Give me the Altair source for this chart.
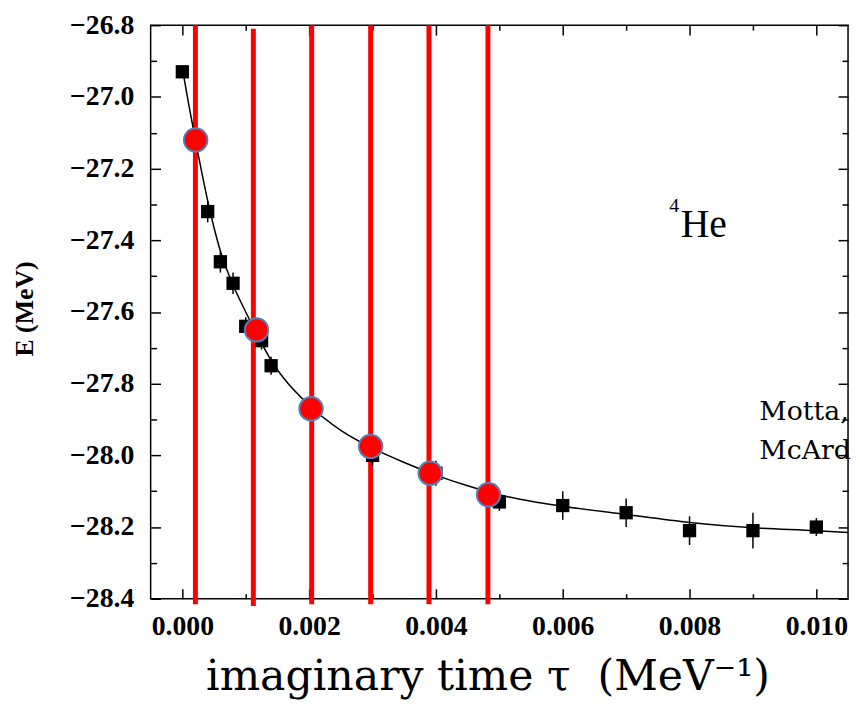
import altair as alt
import pandas as pd

# ---------------- data ----------------
# QMC points (black squares with error bars)
sq_tau = [0.0, 0.0004, 0.0006, 0.0008, 0.001, 0.00125, 0.0014, 0.002, 0.003,
          0.004, 0.005, 0.006, 0.007, 0.008, 0.009, 0.010]
sq_E = [-26.93, -27.32, -27.46, -27.52, -27.64, -27.68, -27.75, -27.86, -28.00,
        -28.05, -28.13, -28.14, -28.16, -28.21, -28.21, -28.20]
sq_err = [0.01, 0.03, 0.03, 0.03, 0.025, 0.025, 0.025, 0.025, 0.03,
          0.035, 0.025, 0.04, 0.04, 0.04, 0.05, 0.025]

# fitted curve
fit_tau = [0.0, 0.0001, 0.0002, 0.0003, 0.0004, 0.0005, 0.0006, 0.0008, 0.001,
           0.0012, 0.0014, 0.0016, 0.002, 0.0025, 0.003, 0.0035, 0.004, 0.0045,
           0.005, 0.0055, 0.006, 0.007, 0.008, 0.009, 0.010, 0.0105]
fit_E = [-26.92, -27.02, -27.115, -27.205, -27.29, -27.365, -27.43, -27.525, -27.60,
         -27.67, -27.735, -27.785, -27.86, -27.93, -27.98, -28.02, -28.055, -28.085,
         -28.11, -28.128, -28.142, -28.165, -28.187, -28.202, -28.21, -28.215]

# red highlighted points and vertical lines
dot_tau = [0.00021, 0.00117, 0.00203, 0.00297, 0.00391, 0.00483]
dot_E = [-27.12, -27.65, -27.87, -27.975, -28.05, -28.11]
vline_tau = [0.000206, 0.00112, 0.00204, 0.00297, 0.00389, 0.00482]
vline_top = [-26.80, -26.81, -26.80, -26.80, -26.80, -26.80]
vline_bot = [-28.415, -28.42, -28.415, -28.415, -28.415, -28.415]

# axis ticks
x_major = [0.0, 0.002, 0.004, 0.006, 0.008, 0.010]
x_minor = [0.001, 0.003, 0.005, 0.007, 0.009]
y_major = [-26.8, -27.0, -27.2, -27.4, -27.6, -27.8, -28.0, -28.2, -28.4]
y_minor = [-26.9, -27.1, -27.3, -27.5, -27.7, -27.9, -28.1, -28.3]

# ---------------- chart ----------------
W, H = 704, 579
SERIF = "Liberation Serif"
xscale = alt.Scale(domain=[-0.0005, 0.0105], nice=False, zero=False)
yscale = alt.Scale(domain=[-28.4, -26.8], nice=False, zero=False)


def tick_axis(orient, values, size):
    off = -H if orient in ("top", "bottom") else -W
    return alt.Axis(orient=orient, values=values, tickSize=size, offset=off,
                    labels=False, domain=False, grid=False, title=None,
                    ticks=True, tickColor="black", tickWidth=1.5)


x_label_axis = alt.Axis(
    orient="bottom", values=x_major, format=".3f", ticks=False, tickSize=0,
    domain=False, grid=False, labelFont=SERIF, labelFontSize=28,
    labelFontWeight="bold", labelColor="black", labelPadding=14,
    labelFlush=False, labelOverlap=False,
    title="imaginary time τ\u00a0 (MeV⁻¹)", titleFont="DejaVu Serif",
    titleFontSize=43, titleFontWeight="normal", titleColor="black",
    titleX=340, titleY=92, titleAlign="center", titleBaseline="alphabetic")

y_label_axis = alt.Axis(
    orient="left", values=y_major, format=".1f", ticks=False, tickSize=0,
    domain=False, grid=False, labelFont=SERIF, labelFontSize=28,
    labelFontWeight="bold", labelColor="black", labelPadding=17,
    labelFlush=False, labelOverlap=False,
    title="E (MeV)", titleFont=SERIF, titleFontSize=26,
    titleFontWeight="bold", titleColor="black", titleAngle=270,
    titleX=-127, titleY=286, titleAlign="center", titleBaseline="middle")

vlines_df = pd.DataFrame({"tau": vline_tau, "top": vline_top, "bot": vline_bot})
fit_df = pd.DataFrame({"tau": fit_tau, "E": fit_E})
sq_df = pd.DataFrame({"tau": sq_tau, "E": sq_E,
                      "lo": [e - d for e, d in zip(sq_E, sq_err)],
                      "hi": [e + d for e, d in zip(sq_E, sq_err)]})
dot_df = pd.DataFrame({"tau": dot_tau, "E": dot_E})

vlines = alt.Chart(vlines_df).mark_rule(color="#ff0000", strokeWidth=5).encode(
    x=alt.X("tau:Q", scale=xscale, axis=x_label_axis),
    y=alt.Y("top:Q", scale=yscale, axis=y_label_axis),
    y2="bot:Q")

curve = alt.Chart(fit_df).mark_line(color="black", strokeWidth=1.5,
                                    interpolate="monotone").encode(
    x=alt.X("tau:Q", scale=xscale, axis=tick_axis("top", x_major, 10)),
    y=alt.Y("E:Q", scale=yscale, axis=tick_axis("right", y_major, 10)))

errbars = alt.Chart(sq_df).mark_rule(color="black", strokeWidth=1.5).encode(
    x=alt.X("tau:Q", scale=xscale, axis=tick_axis("top", x_minor, 5)),
    y=alt.Y("lo:Q", scale=yscale, axis=tick_axis("right", y_minor, 6)),
    y2="hi:Q")

squares = alt.Chart(sq_df).mark_square(color="black", size=180, opacity=1).encode(
    x=alt.X("tau:Q", scale=xscale, axis=tick_axis("bottom", x_major, 10)),
    y=alt.Y("E:Q", scale=yscale, axis=tick_axis("left", y_major, 10)))

dots = alt.Chart(dot_df).mark_point(shape="circle", filled=True, size=560,
                                    fill="#ff0000", stroke="#4f81bd",
                                    strokeWidth=2, opacity=1).encode(
    x=alt.X("tau:Q", scale=xscale, axis=tick_axis("bottom", x_minor, 5)),
    y=alt.Y("E:Q", scale=yscale, axis=tick_axis("left", y_minor, 6)))


def label(text, tau, E, font, size):
    return alt.Chart(pd.DataFrame({"t": [text], "tau": [tau], "E": [E]})).mark_text(
        font=font, fontSize=size, color="black", align="left",
        baseline="alphabetic").encode(
        x=alt.X("tau:Q", scale=xscale, axis=None),
        y=alt.Y("E:Q", scale=yscale, axis=None),
        text="t:N")


texts = [
    label("4", 0.00768, -27.32, SERIF, 20),
    label("He", 0.00786, -27.39, SERIF, 40),
    label("Motta,", 0.00910, -27.90, "DejaVu Serif", 27),
    label("McArd", 0.00910, -28.011, "DejaVu Serif", 27),
]

chart = alt.layer(vlines, curve, errbars, squares, dots, *texts).resolve_axis(
    x="independent", y="independent"
).properties(
    width=W, height=H,
    padding={"left": 144, "top": 14, "right": 4, "bottom": 114},
    autosize=alt.AutoSizeParams(type="none"),
    background="white",
).configure(font=SERIF).configure_axis(
    labelFont=SERIF, titleFont=SERIF
).configure_view(stroke="black", strokeWidth=1.5)

chart.save("out.html", embed_options={"renderer": "svg", "actions": False})
